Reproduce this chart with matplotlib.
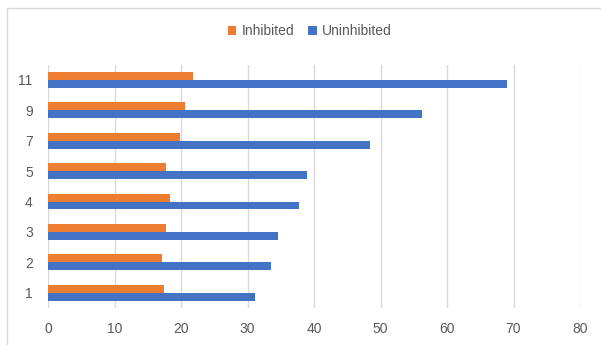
import matplotlib.pyplot as plt
import numpy as np
from matplotlib.patches import Rectangle

plt.rcParams['font.family'] = ['Liberation Sans', 'DejaVu Sans']

# bar chart data, bottom row first
categories = ['1', '2', '3', '4', '5', '7', '9', '11']
inhibited = [17.4, 17.2, 17.8, 18.3, 17.7, 19.9, 20.6, 21.8]
uninhibited = [31.2, 33.5, 34.6, 37.8, 39.0, 48.4, 56.2, 69.0]

orange = '#ED7D31'
blue = '#4472C4'
grid_col = '#D9D9D9'
text_col = '#595959'

fig = plt.figure(figsize=(6.01, 3.45), dpi=100)
ax = fig.add_axes([48 / 601, 1 - 308 / 345, (580 - 48) / 601, (308 - 64.7) / 345])

y = np.arange(len(categories))
h = 0.26
ax.barh(y - h / 2, uninhibited, height=h, color=blue, label='Uninhibited', zorder=3)
ax.barh(y + h / 2, inhibited, height=h, color=orange, label='Inhibited', zorder=3)

ax.set_xlim(0, 80)
ax.set_ylim(-0.5, len(categories) - 0.5)
ax.set_xticks(np.arange(0, 81, 10))
ax.set_yticks(y)
ax.set_yticklabels(categories)
ax.tick_params(axis='both', length=0, colors=text_col, labelsize=10)
ax.tick_params(axis='x', pad=10)
ax.tick_params(axis='y', pad=11)
ax.grid(axis='x', color=grid_col, linewidth=1, zorder=0)
for s in ax.spines.values():
    s.set_visible(False)

# outer chart frame
fig.patches.append(Rectangle((7 / 601, -0.1), 1.2, 1 - 7.5 / 345 + 0.1,
                             transform=fig.transFigure, fill=False,
                             edgecolor=grid_col, linewidth=1))

handles, labels = ax.get_legend_handles_labels()
fig.legend(handles[::-1], labels[::-1], loc='center', bbox_to_anchor=(310 / 601, 1 - 31 / 345),
           ncol=2, frameon=False, fontsize=10, labelcolor=text_col,
           handlelength=0.6, handleheight=0.6, handletextpad=0.4, columnspacing=1.0)

fig.savefig('out.png', dpi=100)
